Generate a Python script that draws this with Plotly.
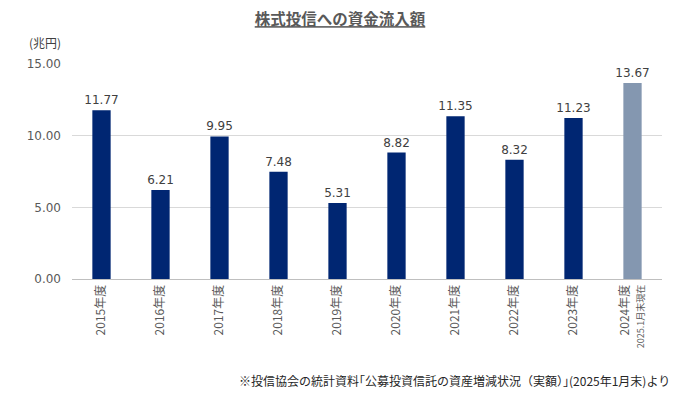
import plotly.graph_objects as go

categories = ["2015年度", "2016年度", "2017年度", "2018年度", "2019年度",
              "2020年度", "2021年度", "2022年度", "2023年度", "2024年度"]
values = [11.77, 6.21, 9.95, 7.48, 5.31, 8.82, 11.35, 8.32, 11.23, 13.67]
tick_labels = categories[:-1] + ["2024年度<br><span style='font-size:9px'>2025.1月末現在</span>"]
tick_vals = [0, 5, 10, 15]
tick_text = ["0.00", "5.00", "10.00", "15.00"]
bar_colors = ["#002672"] * 9 + ["#8497B0"]

fig = go.Figure()
fig.add_trace(go.Bar(
    x=categories, y=values,
    marker=dict(color=bar_colors, line=dict(width=0)),
    text=[f"{v:.2f}" for v in values],
    textposition="outside",
    constraintext="none",
    textfont=dict(family="DejaVu Sans", size=12, color="#404040"),
    cliponaxis=False,
))

fig.update_layout(
    width=680, height=394,
    paper_bgcolor="white", plot_bgcolor="white",
    margin=dict(l=72, r=18, t=64, b=115),
    bargap=0.69,
    showlegend=False,
    font=dict(family="Noto Sans CJK JP", color="#595959"),
    title=dict(text="<b><u>株式投信への資金流入額</u></b>", x=0.5, xanchor="center",
               y=0.95, yanchor="middle",
               font=dict(size=15.5, color="#595959", family="Noto Sans CJK JP")),
    xaxis=dict(
        tickmode="array", tickvals=categories, ticktext=tick_labels,
        tickangle=-90, tickfont=dict(size=12, color="#595959", family="Noto Sans CJK JP"),
        showline=True, linecolor="#BFBFBF", linewidth=1, ticks="", showgrid=False,
    ),
    yaxis=dict(
        range=[0, 15], tickmode="array", tickvals=tick_vals, ticktext=tick_text,
        tickfont=dict(size=12, color="#595959", family="DejaVu Sans"),
        showgrid=True, gridcolor="#D9D9D9", gridwidth=1, zeroline=False,
        ticks="", showline=False, ticklabelstandoff=10,
    ),
    annotations=[
        dict(text="(兆円)", xref="paper", yref="paper", x=-0.046, y=1.102,
             xanchor="center", yanchor="middle", showarrow=False,
             font=dict(size=12, color="#404040", family="Noto Sans CJK JP")),
        dict(text="※投信協会の統計資料｢公募投資信託の資産増減状況（実額）｣(2025年1月末)より",
             xref="paper", yref="paper", x=1.017, y=-0.47, xanchor="right", yanchor="middle",
             showarrow=False,
             font=dict(size=12, color="#262626", family="Noto Sans CJK JP")),
    ],
)

fig.write_html("out.html", post_script="document.body.style.margin='0';",
               config={"displayModeBar": False})
